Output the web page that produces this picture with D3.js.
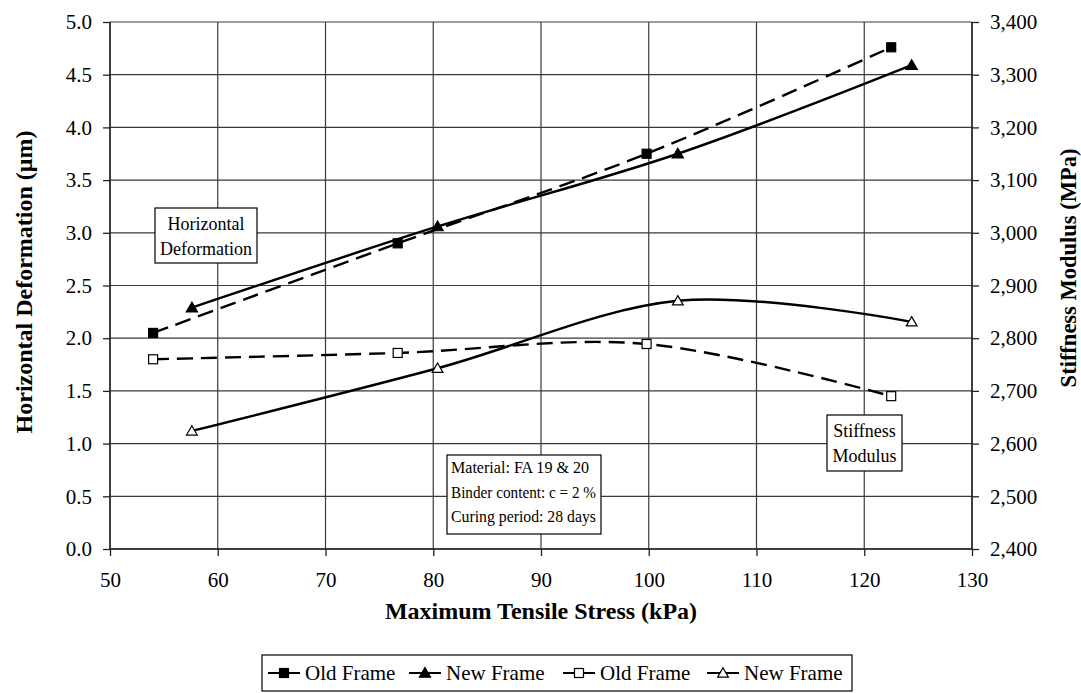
<!DOCTYPE html>
<html>
<head>
<meta charset="utf-8">
<script src="https://cdn.jsdelivr.net/npm/d3@7"></script>
<style>
  body { margin: 0; background: #fff; }
  text { font-family: "Liberation Serif", "Times New Roman", serif; fill: #000; }
</style>
</head>
<body>
<svg id="chart" width="1081" height="693"></svg>
<script>
// data
var oldStress = [54.0, 76.7, 99.8, 122.5];
var newStress = [57.6, 80.4, 102.7, 124.4];
var oldDeform = [2.05, 2.90, 3.75, 4.76];
var newDeform = [2.29, 3.06, 3.75, 4.59];
var oldModulus = [2760, 2772, 2789, 2690];
var newModulus = [2624, 2743, 2871, 2831];
var xTicks = [50, 60, 70, 80, 90, 100, 110, 120, 130];
var yLeftTicks = [0, 0.5, 1, 1.5, 2, 2.5, 3, 3.5, 4, 4.5, 5];
var yRightTicks = [2400, 2500, 2600, 2700, 2800, 2900, 3000, 3100, 3200, 3300, 3400];
var legendNames = ["Old Frame", "New Frame", "Old Frame", "New Frame"];

var svg = d3.select("#chart");
var plotL = 110, plotR = 972, plotT = 22, plotB = 549;

var x = d3.scaleLinear().domain([50, 130]).range([plotL, plotR]);
var yL = d3.scaleLinear().domain([0, 5]).range([plotB, plotT]);
var yR = d3.scaleLinear().domain([2400, 3400]).range([plotB, plotT]);

// grid
var grid = svg.append("g").attr("stroke", "#3a3a3a").attr("stroke-width", 1.2);
xTicks.forEach(function(t) {
  grid.append("line").attr("x1", x(t)).attr("x2", x(t)).attr("y1", plotT).attr("y2", plotB);
});
yLeftTicks.forEach(function(t) {
  grid.append("line").attr("x1", plotL).attr("x2", plotR).attr("y1", yL(t)).attr("y2", yL(t));
});

// axes
function styleAxis(g) {
  g.select(".domain").remove();
  g.selectAll("line").attr("stroke", "#222").attr("stroke-width", 1.3);
  g.selectAll("text").attr("font-size", 21).attr("font-family", "Liberation Serif").attr("fill", "#000");
}
svg.append("g").attr("transform", "translate(0," + plotB + ")")
  .call(d3.axisBottom(x).tickValues(xTicks).tickSize(7).tickPadding(16).tickFormat(d3.format("d")))
  .call(styleAxis);
svg.append("g").attr("transform", "translate(" + plotL + ",0)")
  .call(d3.axisLeft(yL).tickValues(yLeftTicks).tickSize(7).tickPadding(11).tickFormat(d3.format(".1f")))
  .call(styleAxis);
svg.append("g").attr("transform", "translate(" + plotR + ",0)")
  .call(d3.axisRight(yR).tickValues(yRightTicks).tickSize(7).tickPadding(11).tickFormat(d3.format(",")))
  .call(styleAxis);
svg.append("g").attr("stroke", "#222").attr("stroke-width", 1.4).call(function(g) {
  g.append("line").attr("x1", plotL).attr("x2", plotL).attr("y1", plotT).attr("y2", plotB);
  g.append("line").attr("x1", plotR).attr("x2", plotR).attr("y1", plotT).attr("y2", plotB);
  g.append("line").attr("x1", plotL).attr("x2", plotR).attr("y1", plotB).attr("y2", plotB);
});

// axis titles
svg.append("text").attr("x", (plotL + plotR) / 2).attr("y", 619).attr("text-anchor", "middle")
  .attr("font-size", 24).attr("font-weight", "bold").text("Maximum Tensile Stress (kPa)");
svg.append("text").attr("transform", "translate(32,282) rotate(-90)").attr("text-anchor", "middle")
  .attr("font-size", 24).attr("font-weight", "bold").text("Horizontal Deformation (\u03bcm)");
svg.append("text").attr("transform", "translate(1076,268) rotate(-90)").attr("text-anchor", "middle")
  .attr("font-size", 22.5).attr("font-weight", "bold").text("Stiffness Modulus (MPa)");

// series
var series = [
  {xs: oldStress, ys: oldDeform, y: yL, dash: "16,8", marker: "square", fill: "#000"},
  {xs: newStress, ys: newDeform, y: yL, dash: null, marker: "triangle", fill: "#000"},
  {xs: oldStress, ys: oldModulus, y: yR, dash: "16,8", marker: "square", fill: "#fff"},
  {xs: newStress, ys: newModulus, y: yR, dash: null, marker: "triangle", fill: "#fff"}
];

function drawMarker(g, type, cx, cy, fill) {
  if (type === "square") {
    g.append("rect").attr("x", cx - 4.5).attr("y", cy - 4.5).attr("width", 9).attr("height", 9)
      .attr("fill", fill).attr("stroke", "#000").attr("stroke-width", 1.2);
  } else {
    g.append("path").attr("d", d3.symbol().type(d3.symbolTriangle).size(fill === "#000" ? 55 : 50)())
      .attr("transform", "translate(" + cx + "," + (cy + 1) + ")")
      .attr("fill", fill).attr("stroke", "#000").attr("stroke-width", 1.2);
  }
}

series.forEach(function(s) {
  var pts = s.xs.map(function(v, i) { return [v, s.ys[i]]; });
  var line = d3.line()
    .x(function(d) { return x(d[0]); })
    .y(function(d) { return s.y(d[1]); })
    .curve(d3.curveCardinal.tension(0));
  svg.append("path").attr("d", line(pts)).attr("fill", "none").attr("stroke", "#000")
    .attr("stroke-width", 2.4).attr("stroke-dasharray", s.dash);
  var mg = svg.append("g");
  pts.forEach(function(d) { drawMarker(mg, s.marker, x(d[0]), s.y(d[1]), s.fill); });
});

// annotation boxes
function noteBox(bx, by, bw, bh, lines, lineH, fs) {
  svg.append("rect").attr("x", bx).attr("y", by).attr("width", bw).attr("height", bh)
    .attr("fill", "#fff").attr("stroke", "#000").attr("stroke-width", 1.2);
  lines.forEach(function(t, i) {
    svg.append("text").attr("x", bx + bw / 2).attr("y", by + 22 + i * lineH)
      .attr("text-anchor", "middle").attr("font-size", fs).text(t);
  });
}
noteBox(155, 208, 102, 55, ["Horizontal", "Deformation"], 25, 18);
noteBox(827, 415, 75, 56, ["Stiffness", "Modulus"], 25, 18);

svg.append("rect").attr("x", 447).attr("y", 455).attr("width", 154).attr("height", 79)
  .attr("fill", "#fff").attr("stroke", "#000").attr("stroke-width", 1.2);
["Material: FA 19 & 20", "Binder content: c = 2 %", "Curing period: 28 days"].forEach(function(t, i) {
  svg.append("text").attr("x", 451).attr("y", 473 + i * 24.5).attr("font-size", 16.5)
    .attr("textLength", i === 0 ? 138 : 145).attr("lengthAdjust", "spacingAndGlyphs").text(t);
});

// legend
var lg = svg.append("g");
lg.append("rect").attr("x", 262).attr("y", 655).attr("width", 590).attr("height", 36)
  .attr("fill", "#fff").attr("stroke", "#000").attr("stroke-width", 1.2);
var legendX = [268, 409, 563, 707];
series.forEach(function(s, i) {
  var lx = legendX[i], ly = 673;
  lg.append("line").attr("x1", lx).attr("x2", lx + 32).attr("y1", ly).attr("y2", ly)
    .attr("stroke", "#000").attr("stroke-width", 2);
  drawMarker(lg, s.marker, lx + 16, ly, s.fill);
  lg.append("text").attr("x", lx + 37).attr("y", ly + 7).attr("font-size", 21).text(legendNames[i]);
});
</script>
</body>
</html>
